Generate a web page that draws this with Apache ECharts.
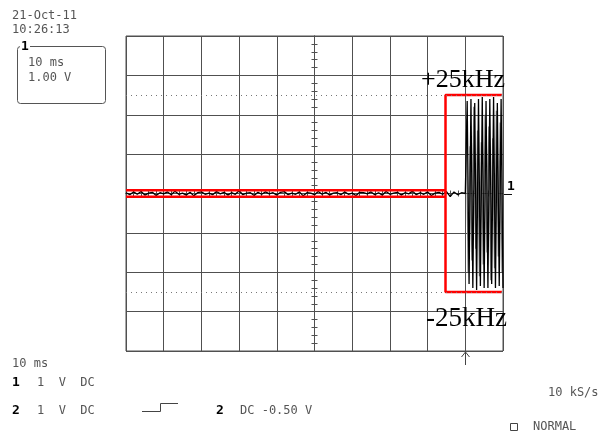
<!DOCTYPE html>
<html>
<head>
<meta charset="utf-8">
<script src="https://cdn.jsdelivr.net/npm/echarts@6/dist/echarts.min.js"></script>
<style>
html,body{margin:0;padding:0;background:#fff;}
#c{width:598px;height:437px;}
</style>
</head>
<body>
<div id="c"></div>
<script>
// ---- data (time in ms, amplitude in V; 10 ms/div, 1 V/div) ----
var timeMin = -50, timeMax = 50, timeDiv = 10;
var voltMin = -4, voltMax = 4, voltDiv = 1;
var noiseStart = -50, noiseStep = 1;
var noiseValues = [
 0.02,-0.03,0.04,-0.02,0.05,-0.04,0.01,0.03,-0.05,0.02,
 -0.01,0.04,-0.03,0.06,-0.02,0.01,-0.04,0.03,-0.06,0.02,
 0.04,-0.02,0.01,-0.03,0.05,-0.01,0.03,-0.04,0.02,-0.02,
 0.07,-0.03,0.01,0.02,-0.05,0.03,-0.02,0.04,-0.01,0.02,
 -0.04,0.03,0.05,-0.03,0.01,-0.02,0.04,-0.06,0.02,0.01,
 -0.03,0.05,-0.02,0.03,-0.04,0.01,0.02,-0.03,0.04,-0.02,
 0.01,-0.05,0.03,0.02,-0.01,0.04,-0.03,0.02,-0.04,0.05,
 -0.02,0.01,0.03,-0.04,0.02,-0.01,0.06,-0.03,0.02,-0.02,
 0.04,-0.05,0.01,0.03,-0.02,0.05,-0.08,0.04,-0.03,0.02
];
var burstStart = 40, burstStep = 0.5;
var burstValues = [0.0,2.35,-2.3,2.4,-2.4,2.3,-2.45,2.4,-2.35,2.45,-2.4,2.35,-2.4,2.4,-2.3,2.45,-2.4,2.3,-2.35,2.4,-2.4];
var burstGreyStart = 40.25, burstGreyStep = 0.5;
var burstGreyValues = [1.9,-2.0,1.2,-1.7,2.2,-1.4,1.6,-2.1,1.3,-1.8,2.0,-1.5,1.7,-2.2,1.4,-1.9,2.1,-1.6,1.8,-2.0];
var bandTopX = [-50, 34.75];   var bandTopY = [0.085, 0.085];
var bandBotX = [-50, 34.75];   var bandBotY = [-0.085, -0.085];
var boxX = [49.7, 34.75, 34.75, 49.7]; var boxY = [2.5, 2.5, -2.5, -2.5];
var dottedLevels = [2.5, -2.5];
var triggerTime = 40;
var labelTop = '+25kHz', labelBottom = '-25kHz';

function pairs(xs, ys){ return xs.map(function(x,i){ return [x, ys[i]]; }); }
function seq(start, step, vals){ return vals.map(function(v,i){ return [start + i*step, v]; }); }

var chart = echarts.init(document.getElementById('c'), null, {renderer:'canvas'});
var gridCol = '#505050';
var monoFont = '"DejaVu Sans Mono", monospace';
var txtCol = '#555';

function centerX(inside){
  return {type:'value', gridIndex:0, min:timeMin, max:timeMax, interval:timeDiv, position:'bottom',
    axisLine:{show:true, onZero:true, lineStyle:{color:gridCol, width:1}},
    axisTick:{show:true, inside:inside, length:3, lineStyle:{color:gridCol}},
    minorTick:{show:true, splitNumber:5, length:3, lineStyle:{color:gridCol}},
    axisLabel:{show:false}, splitLine:{show:false}};
}
function centerY(inside){
  return {type:'value', gridIndex:0, min:voltMin, max:voltMax, interval:voltDiv, position:'left',
    axisLine:{show:true, onZero:true, lineStyle:{color:gridCol, width:1}},
    axisTick:{show:true, inside:inside, length:3, lineStyle:{color:gridCol}},
    minorTick:{show:true, splitNumber:5, length:3, lineStyle:{color:gridCol}},
    axisLabel:{show:false}, splitLine:{show:false}};
}

var option = {
  animation:false,
  backgroundColor:'#fff',
  grid:{left:126, top:36, width:377, height:315, show:true, borderColor:gridCol, borderWidth:1, backgroundColor:'transparent'},
  xAxis:[
    {type:'value', min:timeMin, max:timeMax, interval:timeDiv, axisLine:{show:false}, axisTick:{show:false}, axisLabel:{show:false},
     splitLine:{show:true, lineStyle:{color:gridCol, width:1}}},
    centerX(false), centerX(true)
  ],
  yAxis:[
    {type:'value', min:voltMin, max:voltMax, interval:voltDiv, axisLine:{show:false}, axisTick:{show:false}, axisLabel:{show:false},
     splitLine:{show:true, lineStyle:{color:gridCol, width:1}}},
    centerY(false), centerY(true)
  ],
  series:[
    {type:'line', data:seq(burstGreyStart, burstGreyStep, burstGreyValues), showSymbol:false, lineStyle:{color:'#777', width:1.2}},
    {type:'line', data:seq(noiseStart, noiseStep, noiseValues).concat(seq(burstStart, burstStep, burstValues)),
     showSymbol:false, lineStyle:{color:'#000', width:1.3},
     markLine:{silent:true, symbol:'none', label:{show:false},
       lineStyle:{color:'#777', type:[1,4], width:1},
       data:dottedLevels.map(function(v){return {yAxis:v};})}},
    {type:'line', data:pairs(bandTopX, bandTopY), showSymbol:false, lineStyle:{color:'#ff0000', width:2.5}},
    {type:'line', data:pairs(bandBotX, bandBotY), showSymbol:false, lineStyle:{color:'#ff0000', width:2.5}},
    {type:'line', data:pairs(boxX, boxY), showSymbol:false, lineStyle:{color:'#ff0000', width:2.5}}
  ]
};
chart.setOption(option);

var trigPx = chart.convertToPixel({xAxisIndex:0}, triggerTime);
var zeroPy = chart.convertToPixel({yAxisIndex:0}, 0);
var topPy = chart.convertToPixel({yAxisIndex:0}, 2.5);
var botPy = chart.convertToPixel({yAxisIndex:0}, -2.5);
var rightPx = chart.convertToPixel({xAxisIndex:0}, timeMax);

function t(x, y, s, opt){
  opt = opt || {};
  return {type:'text', x:x, y:y, silent:true,
    style:{text:s, x:0, y:0, font:(opt.bold?'bold ':'') + (opt.size||12) + 'px ' + (opt.family||monoFont),
      fill:opt.color||txtCol, textVerticalAlign:'middle', textAlign:opt.align||'left'}};
}
function ln(x1,y1,x2,y2,c,w){ return {type:'line', silent:true, shape:{x1:x1,y1:y1,x2:x2,y2:y2}, style:{stroke:c||'#444', lineWidth:w||1}}; }

chart.setOption({graphic:[
  t(12, 16, '21-Oct-11'),
  t(12, 30, '10:26:13'),
  {type:'rect', silent:true, shape:{x:17.5, y:46.5, width:88, height:57, r:3}, style:{fill:'none', stroke:'#555', lineWidth:1}},
  {type:'rect', silent:true, shape:{x:20, y:40, width:10, height:12}, style:{fill:'#fff'}},
  t(21, 47, '1', {bold:true, color:'#000', size:13}),
  t(28, 63, '10 ms'),
  t(28, 78, '1.00 V'),
  t(12, 364, '10 ms'),
  t(12, 383, '1', {bold:true, color:'#000', size:13}),
  t(37, 383, '1  V  DC'),
  t(12, 411, '2', {bold:true, color:'#000', size:13}),
  t(37, 411, '1  V  DC'),
  {type:'polyline', silent:true, shape:{points:[[142,411.5],[160.5,411.5],[160.5,403.5],[178,403.5]]}, style:{stroke:'#444', fill:'none', lineWidth:1}},
  t(216, 411, '2', {bold:true, color:'#000', size:13}),
  t(240, 411, 'DC -0.50 V'),
  t(548, 393, '10 kS/s'),
  {type:'rect', silent:true, shape:{x:510.5, y:423.5, width:7, height:7}, style:{fill:'none', stroke:'#444', lineWidth:1}},
  t(533, 427, 'NORMAL'),
  ln(Math.round(trigPx)+0.5, 352, Math.round(trigPx)+0.5, 365, '#444'),
  {type:'polyline', silent:true, shape:{points:[[Math.round(trigPx)-3.5,357],[Math.round(trigPx)+0.5,352],[Math.round(trigPx)+4.5,357]]}, style:{stroke:'#444', fill:'none', lineWidth:1}},
  ln(rightPx, Math.round(zeroPy)+0.5, rightPx+9, Math.round(zeroPy)+0.5, '#111'),
  t(507, zeroPy-7, '1', {bold:true, color:'#000', size:13}),
  t(505, topPy-15, labelTop, {size:26, family:'"Liberation Serif", "Times New Roman", serif', color:'#000', align:'right'}),
  t(507, botPy+27, labelBottom, {size:27, family:'"Liberation Serif", "Times New Roman", serif', color:'#000', align:'right'})
]});
</script>
</body>
</html>
